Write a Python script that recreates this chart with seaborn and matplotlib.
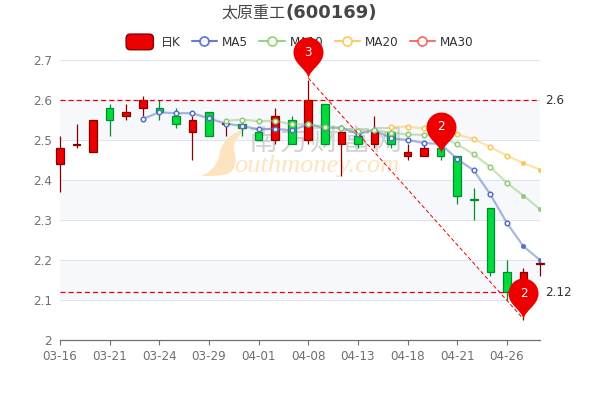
import numpy as np
import pandas as pd
import matplotlib
matplotlib.use('Agg')
import matplotlib.pyplot as plt
import seaborn as sns
from matplotlib.lines import Line2D
from matplotlib.patches import FancyBboxPatch, Patch, PathPatch
from matplotlib.path import Path
from matplotlib.legend_handler import HandlerPatch
from matplotlib.transforms import Affine2D

dates = ['03-16', '03-17', '03-18', '03-21', '03-22', '03-23', '03-24', '03-25', '03-28', '03-29',
         '03-30', '03-31', '04-01', '04-06', '04-07', '04-08', '04-11', '04-12', '04-13', '04-14',
         '04-15', '04-18', '04-19', '04-20', '04-21', '04-22', '04-25', '04-26', '04-27', '04-28']

# candle values, True in is_up means a red candle
body_low = [2.44, 2.487, 2.47, 2.55, 2.56, 2.58, 2.57, 2.54, 2.52, 2.51,
            2.54, 2.53, 2.50, 2.50, 2.49, 2.50, 2.49, 2.49, 2.49, 2.49,
            2.49, 2.46, 2.46, 2.46, 2.36, 2.35, 2.17, 2.12, 2.10, 2.19]
body_high = [2.48, 2.49, 2.55, 2.58, 2.57, 2.60, 2.58, 2.56, 2.55, 2.57,
             2.543, 2.54, 2.52, 2.56, 2.55, 2.60, 2.59, 2.52, 2.51, 2.52,
             2.52, 2.47, 2.48, 2.48, 2.46, 2.353, 2.33, 2.17, 2.17, 2.193]
wick_low = [2.37, 2.48, 2.47, 2.51, 2.55, 2.56, 2.55, 2.53, 2.45, 2.51,
            2.51, 2.51, 2.50, 2.49, 2.49, 2.49, 2.49, 2.41, 2.48, 2.48,
            2.48, 2.45, 2.46, 2.45, 2.34, 2.30, 2.16, 2.10, 2.05, 2.16]
wick_high = [2.51, 2.54, 2.55, 2.59, 2.59, 2.61, 2.60, 2.58, 2.56, 2.57,
             2.55, 2.55, 2.52, 2.58, 2.56, 2.65, 2.59, 2.52, 2.52, 2.56,
             2.53, 2.49, 2.49, 2.49, 2.46, 2.38, 2.33, 2.20, 2.18, 2.20]
is_up = [True, True, True, False, True, True, False, False, True, False,
         True, False, False, True, False, True, False, True, False, True,
         False, True, True, False, False, False, False, False, True, True]

nan = np.nan
ma5 = [nan, nan, nan, nan, nan, 2.553, 2.569, 2.567, 2.567, 2.554,
       2.541, 2.535, 2.527, 2.528, 2.524, 2.539, 2.531, 2.531, 2.515, 2.525,
       2.504, 2.50, 2.4925, 2.49, 2.4525, 2.424, 2.364, 2.2925, 2.234, 2.20]
ma10 = [nan, nan, nan, nan, nan, nan, nan, nan, nan, nan,
        2.548, 2.551, 2.547, 2.548, 2.539, 2.539, 2.532, 2.529, 2.523, 2.525,
        2.518, 2.514, 2.5125, 2.51, 2.489, 2.464, 2.4325, 2.3925, 2.361, 2.327]
ma20 = [nan, nan, nan, nan, nan, nan, nan, nan, nan, nan,
        nan, nan, nan, nan, nan, nan, nan, nan, nan, nan,
        2.533, 2.533, 2.529, 2.525, 2.514, 2.502, 2.4825, 2.461, 2.442, 2.426]
ma30 = [nan] * 30

y_ticks = [2, 2.1, 2.2, 2.3, 2.4, 2.5, 2.6, 2.7]
y_labels = ['2', '2.1', '2.2', '2.3', '2.4', '2.5', '2.6', '2.7']

mark_levels = [2.6, 2.12]
mark_labels = ['2.6', '2.12']
pin_x = [15, 23, 28]
pin_y = [2.655, 2.468, 2.0525]
pin_labels = ['3', '2', '2']

RED, RED_EDGE = '#ec0000', '#8a0000'
GREEN, GREEN_EDGE = '#00da3c', '#008f28'
ma_colors = {'MA5': '#5470c6', 'MA10': '#91cc75', 'MA20': '#fac858', 'MA30': '#ee6666'}
TEXT = '#333333'
AXIS = '#6e7079'

sns.set_theme(style='white')
plt.rcParams['font.family'] = ['DejaVu Sans', 'Noto Sans CJK SC']
plt.rcParams['font.size'] = 8.64

fig = plt.figure(figsize=(6, 4), dpi=100)
ax = fig.add_axes([0.1, 0.15, 0.8, 0.7])
px = Affine2D().scale(1, -1).translate(0, 400)  # picture pixels, y down

x = np.arange(len(dates))
ax.set_xlim(0, len(dates) - 1)
ax.set_ylim(2, 2.7)

# split areas and grid
for lo, hi in [(2.1, 2.2), (2.3, 2.4), (2.5, 2.6)]:
    ax.axhspan(lo, hi, color='#f6f8fc', lw=0, zorder=0)
for t in y_ticks[1:]:
    ax.axhline(t, color='#e0e6f1', lw=0.8, zorder=0.5)

# watermark
flame = Path([(201, 176), (214, 171), (218, 162), (220, 152), (222, 141), (232, 132), (248, 128),
              (238, 135), (233, 142), (234, 150), (237, 160), (237, 172), (224, 175), (216, 176), (208, 176), (201, 176)],
             [Path.MOVETO] + [Path.CURVE4] * 15)
ax.add_patch(PathPatch(flame, transform=px, fc='#fde3c0', ec='none', zorder=1, clip_on=False))
for i, ch in enumerate('南方财富网'):
    ax.text(263 + i * 31, 142, ch, transform=px, fontsize=21, color='#c8c8c8', alpha=0.8,
            ha='center', va='center', family='Noto Sans CJK SC', zorder=1)
ax.text(234, 166, 'outhmoney.com', transform=px, fontsize=19, color='#fde3c0', style='italic',
        ha='left', va='center', family='Liberation Serif', zorder=1)

# candles
width = 0.46
for i in x:
    face = RED if is_up[i] else GREEN
    edge = RED_EDGE if is_up[i] else GREEN_EDGE
    ax.vlines(i, wick_low[i], wick_high[i], color=edge, lw=0.9, zorder=2, clip_on=False)
    ax.bar(i, body_high[i] - body_low[i], width, bottom=body_low[i], color=face, edgecolor=edge,
           lw=0.9, zorder=3, clip_on=False)

# moving averages
ma_table = pd.DataFrame({'x': x, 'MA5': ma5, 'MA10': ma10, 'MA20': ma20, 'MA30': ma30})
ma_long = ma_table.melt(id_vars='x', var_name='name', value_name='value').dropna()
sns.lineplot(data=ma_long, x='x', y='value', hue='name', palette=ma_colors, estimator=None,
             linewidth=1.6, alpha=0.5, legend=False, ax=ax, zorder=4)
ax.set_xlabel('')
ax.set_ylabel('')
for name, color in ma_colors.items():
    vals = ma_table[name].to_numpy()
    ax.plot(x[:-2], vals[:-2], ls='none', marker='o', ms=3.3, mfc='white', mec=color, mew=1.1, zorder=5)
    ax.plot(x[-2:], vals[-2:], ls='none', marker='o', ms=3.2, mfc=color, mec=color, mew=0.4, zorder=5)

# mark lines
for level, label in zip(mark_levels, mark_labels):
    ax.axhline(level, color='#ee0000', lw=0.9, ls=(0, (4, 2.5)), zorder=6)
    ax.annotate(label, (1, level), xycoords=('axes fraction', 'data'), xytext=(3.6, 0),
                textcoords='offset points', color=TEXT, fontsize=8.64, va='center', ha='left')
ax.plot([pin_x[0], pin_x[2]], [pin_y[0], pin_y[2]], color='#ee0000', lw=0.7, ls=(0, (4, 2.5)),
        zorder=6, clip_on=False)

# pins, tip on the data point
pin_path = Path([(0, 0), (-1, 9), (-15, 14), (-15, 26), (-15, 34.3), (-8.3, 41), (0, 41),
                 (8.3, 41), (15, 34.3), (15, 26), (15, 14), (1, 9), (0, 0)],
                [Path.MOVETO] + [Path.CURVE4] * 12)
for px_i, py_i, lab in zip(pin_x, pin_y, pin_labels):
    ax.plot([px_i], [py_i], marker=pin_path, ms=59, mfc='#ee0000', mew=0, ls='none', zorder=10, clip_on=False)
    ax.annotate(lab, (px_i, py_i), xytext=(0, 18.7), textcoords='offset points', color='white',
                fontsize=8.64, ha='center', va='center', zorder=11)

# axes
ax.set_xticks(x[::3][:10], dates[::3][:10])
ax.set_yticks(y_ticks, y_labels)
for s in ['top', 'left', 'right']:
    ax.spines[s].set_visible(False)
ax.spines['bottom'].set_color(AXIS)
ax.spines['bottom'].set_linewidth(0.9)
ax.spines['bottom'].set_zorder(7)
ax.tick_params(axis='x', length=3.6, width=0.8, color=AXIS, labelcolor=AXIS, labelsize=8.64, pad=3.6, bottom=True)
ax.tick_params(axis='y', length=0, labelcolor=AXIS, labelsize=8.64, pad=5.8)
ax.grid(False)

# legend
def round_box(legend, orig_handle, xdescent, ydescent, width, height, fontsize):
    return FancyBboxPatch((-xdescent - 1.5, -ydescent), width - 1.5, height,
                          boxstyle='round,pad=1.5,rounding_size=3')

handles = [Patch(fc=RED, ec=RED_EDGE, lw=1)]
for color in ma_colors.values():
    handles.append(Line2D([], [], color=color, marker='o', ms=6.5, mfc='white', mec=color, mew=1.3, lw=1.5, alpha=0.9))
leg = ax.legend(handles, ['日K'] + list(ma_colors), loc='center', bbox_to_anchor=(302, 42.5),
                bbox_transform=px, ncol=5, frameon=False, fontsize=8.64, labelcolor=TEXT,
                handlelength=2.1, handleheight=1.1, handletextpad=0.42, columnspacing=0.95,
                borderaxespad=0, borderpad=0, handler_map={Patch: HandlerPatch(patch_func=round_box)})
leg.set_zorder(8)

# title: Chinese part is light, code part bold
ax.text(221.5, 13.5, '太原重工', transform=px, family='Noto Sans CJK SC', fontsize=11.5, color='#464646',
        ha='left', va='center', clip_on=False)
ax.text(285.5, 13.5, '(600169)', transform=px, family='DejaVu Sans', fontweight='bold', fontsize=12.96,
        color='#464646', ha='left', va='center', clip_on=False)

fig.savefig('out.png', dpi=100)
